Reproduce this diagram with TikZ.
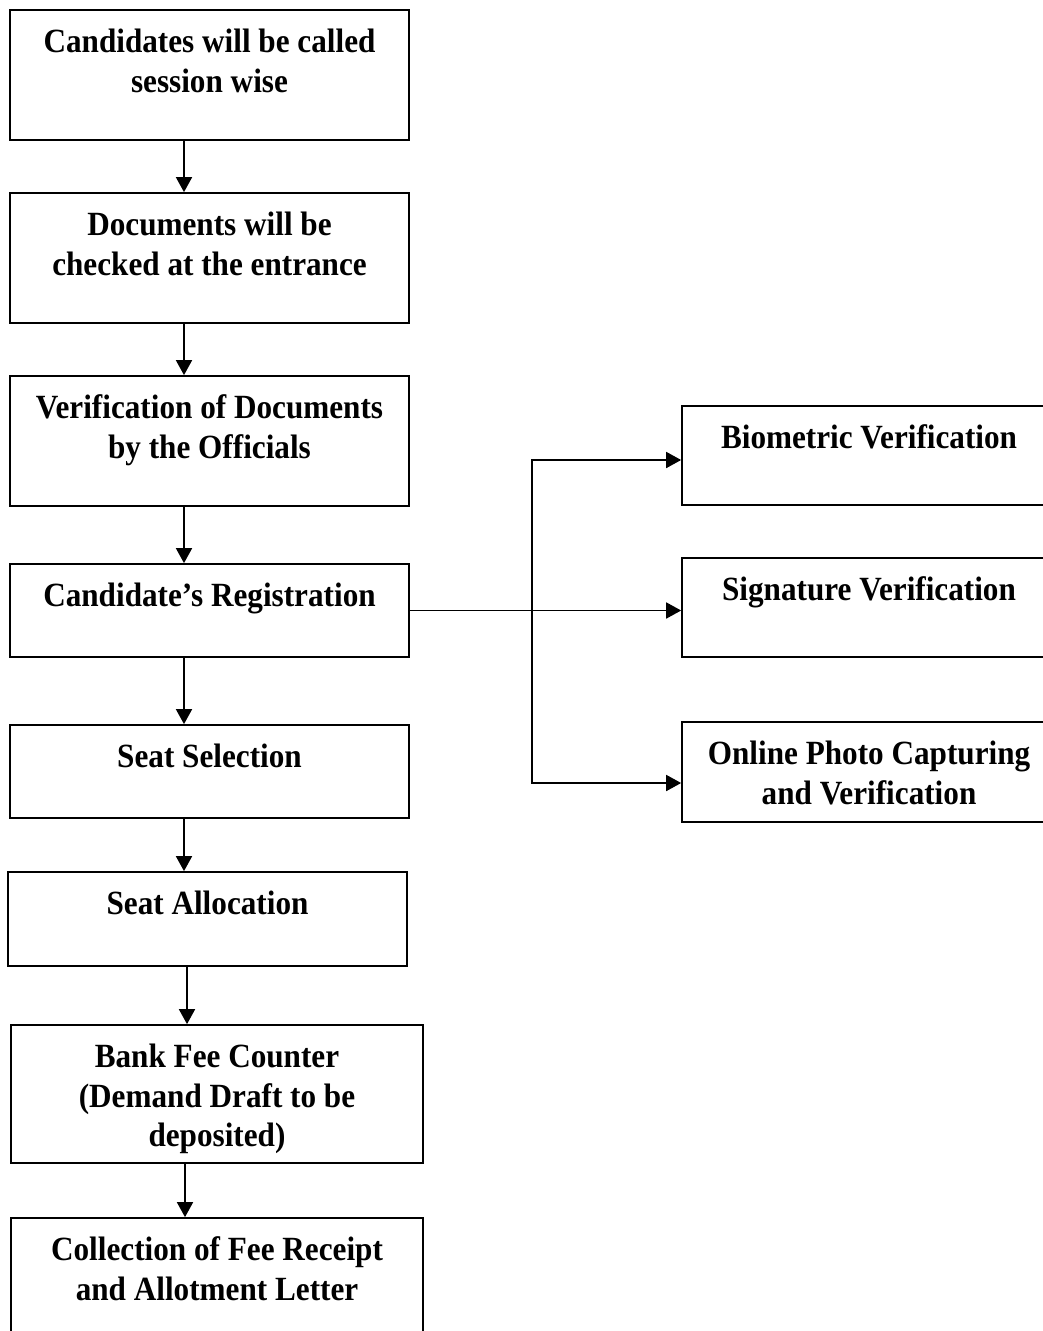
\documentclass[tikz,border=0pt]{standalone}
\usepackage{fontspec}
\setmainfont{Liberation Serif}
\usetikzlibrary{arrows.meta,positioning}

\newcommand{\nrw}[1]{\scalebox{0.92}[1]{#1}}

\begin{document}
\begin{tikzpicture}[%
	x=0.02cm,y=-0.02cm,line width=1pt,>={Triangle[length=0.3cm,width=0.32cm]},
	stage/.style 2 args={draw,rectangle,inner sep=0pt,minimum width=#1,minimum height=#2},
	caption/.style={inner sep=0pt,align=center,font=\bfseries\fontsize{19.3}{22.5}\selectfont}]

	\useasboundingbox (0,0) rectangle (1043,1331);
	\clip (0,0) rectangle (1043,1331);

	% main column
	\node[stage={7.98cm}{2.6cm}]	(CW)	at (209.5,75)		{};
	\node[stage={7.98cm}{2.6cm}]	(DC)	at (209.5,258)		{};
	\node[stage={7.98cm}{2.6cm}]	(VD)	at (209.5,441)		{};
	\node[stage={7.98cm}{1.86cm}]	(CR)	at (209.5,610.5)	{};
	\node[stage={7.98cm}{1.86cm}]	(SS)	at (209.5,771.5)	{};
	\node[stage={7.98cm}{1.88cm}]	(SA)	at (207.5,919)		{};
	\node[stage={8.24cm}{2.76cm}]	(BF)	at (217,1094)		{};
	\node[stage={8.24cm}{2.54cm}]	(CF)	at (217,1281.5)		{};

	% verification column
	\node[stage={7.48cm}{1.98cm}]	(BV)	at (869,455.5)		{};
	\node[stage={7.48cm}{1.98cm}]	(SV)	at (869,607.5)		{};
	\node[stage={7.48cm}{2.0cm}]	(OP)	at (869,772)		{};

	\node[caption,below=0.38cm of CW.north]	(CWt)	{\nrw{Candidates will be called}\\\nrw{session wise}};
	\node[caption,below=0.38cm of DC.north]	(DCt)	{\nrw{Documents will be}\\\nrw{checked at the entrance}};
	\node[caption,below=0.38cm of VD.north]	(VDt)	{\nrw{Verification of Documents}\\\nrw{by the Officials}};
	\node[caption,below=0.38cm of CR.north]	(CRt)	{\nrw{Candidate’s Registration}};
	\node[caption,below=0.38cm of SS.north]	(SSt)	{\nrw{Seat Selection}};
	\node[caption,below=0.38cm of SA.north]	(SAt)	{\nrw{Seat Allocation}};
	\node[caption,below=0.38cm of BF.north]	(BFt)	{\nrw{Bank Fee Counter}\\\nrw{(Demand Draft to be}\\\nrw{deposited)}};
	\node[caption,below=0.38cm of CF.north]	(CFt)	{\nrw{Collection of Fee Receipt}\\\nrw{and Allotment Letter}};
	\node[caption,below=0.38cm of BV.north]	(BVt)	{\nrw{Biometric Verification}};
	\node[caption,below=0.38cm of SV.north]	(SVt)	{\nrw{Signature Verification}};
	\node[caption,below=0.38cm of OP.north]	(OPt)	{\nrw{Online Photo Capturing}\\\nrw{and Verification}};

	\path[->] ([xshift=-0.51cm]CW.south)	edge	([xshift=-0.51cm]DC.north);
	\path[->] ([xshift=-0.51cm]DC.south)	edge	([xshift=-0.51cm]VD.north);
	\path[->] ([xshift=-0.51cm]VD.south)	edge	([xshift=-0.51cm]CR.north);
	\path[->] ([xshift=-0.51cm]CR.south)	edge	([xshift=-0.51cm]SS.north);
	\path[->] ([xshift=-0.51cm]SS.south)	edge	([xshift=-0.47cm]SA.north);
	\path[->] ([xshift=-0.41cm]SA.south)	edge	([xshift=-0.6cm]BF.north);
	\path[->] ([xshift=-0.64cm]BF.south)	edge	([xshift=-0.64cm]CF.north);

	\coordinate (split) at (532,610.5);
	\draw[line width=0.6pt] (CR.east) -- (split);
	\path[->] (split)	edge	(split -| SV.west);
	\draw[->] (split) |- ([yshift=-0.09cm]BV.west);
	\draw[->] (split) |- ([yshift=-0.22cm]OP.west);

\end{tikzpicture}
\end{document}
